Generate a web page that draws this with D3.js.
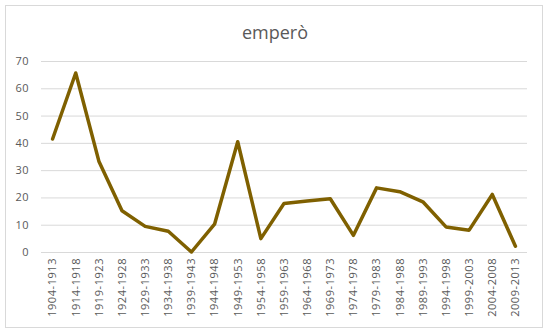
<!DOCTYPE html>
<html>
<head>
<meta charset="utf-8">
<script src="https://cdn.jsdelivr.net/npm/d3@7"></script>
<style>
  body { margin: 0; background: #fff; }
  text { font-family: "Open Sans", sans-serif; fill: #595959; }
</style>
</head>
<body>
<svg width="550" height="336"></svg>
<script>
var periods = ["1904-1913", "1914-1918", "1919-1923", "1924-1928", "1929-1933",
  "1934-1938", "1939-1943", "1944-1948", "1949-1953", "1954-1958", "1959-1963",
  "1964-1968", "1969-1973", "1974-1978", "1979-1983", "1984-1988", "1989-1993",
  "1994-1998", "1999-2003", "2004-2008", "2009-2013"];

var values = [41.4, 65.6, 33.3, 15.1, 9.4, 7.6, 0, 10.2, 40.4, 4.9,
  17.8, 18.7, 19.5, 6.1, 23.5, 22.1, 18.4, 9.2, 8.0, 21.1, 2.1];

var yTicks = [0, 10, 20, 30, 40, 50, 60, 70];

var title = "emperò";

var svg = d3.select("svg");

svg.append("rect")
    .attr("x", 5.5)
    .attr("y", 5.5)
    .attr("width", 537)
    .attr("height", 322)
    .attr("fill", "#fff")
    .attr("stroke", "#d9d9d9");

var x = d3.scaleBand()
    .domain(periods)
    .range([41, 527]);

var y = d3.scaleLinear()
    .domain([0, 70])
    .range([252, 61]);

svg.append("text")
    .attr("x", 275)
    .attr("y", 39)
    .attr("text-anchor", "middle")
    .style("font-size", "18px")
    .text(title);

// gridlines + y labels
var yAxis = svg.append("g")
    .attr("transform", "translate(41,0)")
    .call(d3.axisLeft(y).tickValues(yTicks).tickSize(-486).tickPadding(12));
yAxis.select(".domain").remove();
yAxis.selectAll("line").attr("stroke", "#d9d9d9");
yAxis.selectAll("text")
    .style("font-size", "11px")
    .style("letter-spacing", "0.4px")
    .attr("fill", "#595959");

// x labels
var xAxis = svg.append("g")
    .attr("transform", "translate(0," + y(0) + ")")
    .call(d3.axisBottom(x).tickSize(0).tickPadding(6));
xAxis.select(".domain").remove();
xAxis.selectAll("text")
    .style("font-size", "11px")
    .style("letter-spacing", "0.55px")
    .attr("fill", "#595959")
    .attr("text-anchor", "end")
    .attr("transform", "rotate(-90)")
    .attr("x", -6)
    .attr("y", 0)
    .attr("dy", "0.35em");

var line = d3.line()
    .x(function(d, i) { return x(periods[i]) + x.bandwidth() / 2; })
    .y(function(d) { return y(d); });

svg.append("path")
    .datum(values)
    .attr("fill", "none")
    .attr("stroke", "#7f6000")
    .attr("stroke-width", 3.5)
    .attr("stroke-linejoin", "round")
    .attr("stroke-linecap", "round")
    .attr("d", line);
</script>
</body>
</html>
